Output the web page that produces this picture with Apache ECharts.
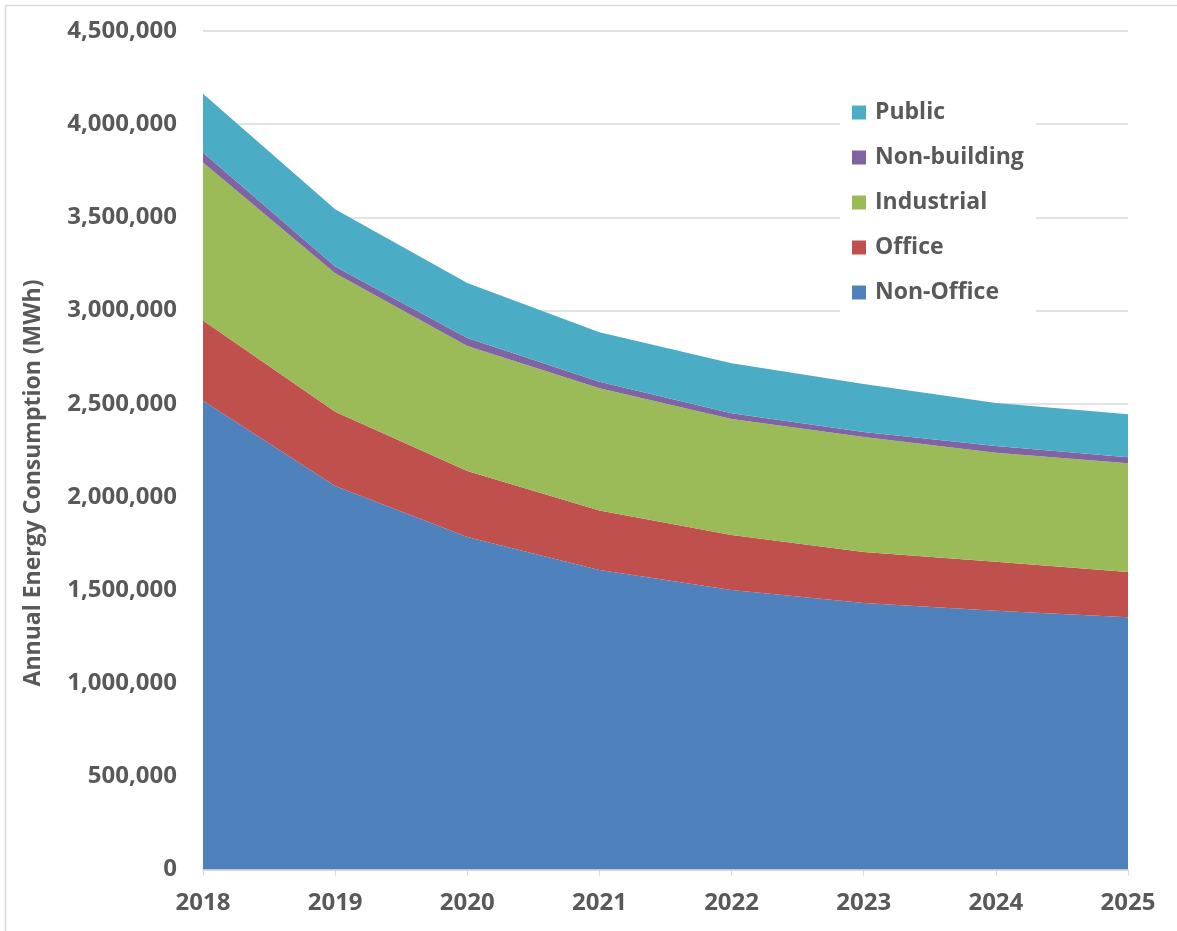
<!DOCTYPE html>
<html>
<head>
<meta charset="utf-8">
<title>Annual Energy Consumption</title>
<script src="https://cdn.jsdelivr.net/npm/echarts@6/dist/echarts.min.js"></script>
<style>
  html, body { margin: 0; padding: 0; background: #fff; }
  #chart { width: 1177px; height: 931px; }
</style>
</head>
<body>
<div id="chart"></div>
<script>
// data (MWh)
var years = ['2018', '2019', '2020', '2021', '2022', '2023', '2024', '2025']
var nonOffice = [2515000, 2058000, 1785000, 1608000, 1500000, 1430000, 1388000, 1354000]
var office = [431000, 399000, 354000, 318000, 295000, 274000, 263000, 243000]
var industrial = [848000, 743000, 671000, 657000, 623000, 617000, 585000, 583000]
var nonBuilding = [54000, 36000, 43000, 35000, 31000, 27000, 37000, 33000]
var publicSector = [315000, 308000, 295000, 265000, 268000, 258000, 231000, 230000]
var legendOrder = ['Public', 'Non-building', 'Industrial', 'Office', 'Non-Office']

var textColor = '#595959'
var fontFamily = '"Open Sans", "Noto Sans", sans-serif'

function areaSeries (name, data, color) {
    return {
        name: name,
        type: 'line',
        stack: 'total',
        data: data,
        color: color,
        showSymbol: false,
        symbol: 'none',
        lineStyle: { width: 0 },
        areaStyle: { color: color, opacity: 1 },
        emphasis: { disabled: true }
    }
}

var chart = echarts.init(document.getElementById('chart'), null, { renderer: 'canvas' })
chart.setOption({
    animation: false,
    backgroundColor: '#fff',
    textStyle: { fontFamily: fontFamily },
    grid: { left: 203, right: 49, top: 31, bottom: 61.5, containLabel: false },
    legend: {
        data: legendOrder,
        orient: 'vertical',
        left: 840,
        top: 91,
        padding: [10, 12, 10, 12],
        backgroundColor: '#fff',
        icon: 'rect',
        itemWidth: 14,
        itemHeight: 14,
        itemGap: 22,
        selectedMode: false,
        textStyle: {
            color: textColor,
            fontSize: 23,
            fontWeight: 'bold',
            fontFamily: fontFamily,
            lineHeight: 23,
            padding: [0, 0, 0, 4]
        }
    },
    xAxis: {
        type: 'category',
        data: years,
        boundaryGap: false,
        axisLine: { lineStyle: { color: '#d9d9d9', width: 1.5 } },
        axisTick: { show: true, length: 6, lineStyle: { color: '#d9d9d9' } },
        axisLabel: {
            color: textColor,
            fontSize: 24,
            fontWeight: 'bold',
            fontFamily: fontFamily,
            margin: 22
        },
        splitLine: { show: false }
    },
    yAxis: {
        type: 'value',
        min: 0,
        max: 4500000,
        interval: 500000,
        axisLine: { show: false },
        axisTick: { show: false },
        axisLabel: {
            color: textColor,
            fontSize: 24,
            fontWeight: 'bold',
            fontFamily: fontFamily,
            margin: 26,
            formatter: function (v) {
                return v.toString().replace(/\B(?=(\d{3})+(?!\d))/g, ',')
            }
        },
        splitLine: { lineStyle: { color: '#d9d9d9', width: 1.5 } }
    },
    graphic: [
        {
            type: 'rect',
            silent: true,
            shape: { x: 5.5, y: 5.5, width: 1200, height: 960 },
            style: { fill: 'none', stroke: '#d9d9d9', lineWidth: 1.5 }
        },
        {
            type: 'text',
            silent: true,
            x: 33,
            y: 483,
            rotation: Math.PI / 2,
            style: {
                text: 'Annual Energy Consumption (MWh)',
                fill: textColor,
                font: 'bold 23px ' + fontFamily,
                align: 'center',
                verticalAlign: 'middle'
            }
        }
    ],
    series: [
        areaSeries('Non-Office', nonOffice, '#4F81BD'),
        areaSeries('Office', office, '#C0504D'),
        areaSeries('Industrial', industrial, '#9BBB59'),
        areaSeries('Non-building', nonBuilding, '#8064A2'),
        areaSeries('Public', publicSector, '#4BACC6')
    ]
})
</script>
</body>
</html>
